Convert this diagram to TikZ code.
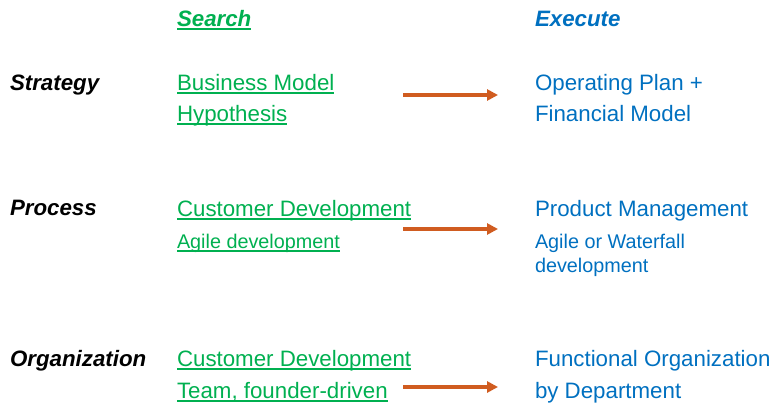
\documentclass[tikz,border=0pt]{standalone}
\usepackage{fontspec}
\setmainfont{Liberation Sans}
\usetikzlibrary{arrows.meta}
\definecolor{srchgreen}{RGB}{0,176,80}
\definecolor{execblue}{RGB}{0,112,192}
\definecolor{flowarrow}{RGB}{208,92,32}
\tikzset{
  txt/.style={anchor=base west, inner sep=0pt, outer sep=0pt},
  big/.style={txt, font=\fontsize{22.3}{26}\selectfont},
  small/.style={txt, font=\fontsize{19.8}{23}\selectfont},
  head/.style={big, font=\fontsize{22.3}{26}\selectfont\bfseries\itshape},
  search/.style={text=srchgreen},
  execute/.style={text=execblue},
  uline/.style={draw=srchgreen, line width=1.5pt},
  flow/.style={draw=flowarrow, line width=3.4pt, -{Triangle[length=11pt,width=11pt]}}
}
\newcommand{\ul}[1]{\draw[uline] ([yshift=-3pt]#1.base west) -- ([yshift=-3pt]#1.base east);}
\begin{document}
\begin{tikzpicture}[x=1pt,y=-1pt]
\useasboundingbox (0,0) rectangle (780,415);

% column headings
\node[head, search]  (hsearch) at (177,26) {Search};
\node[head, execute] (hexec)   at (535,26) {Execute};
\ul{hsearch}

% row labels
\node[head] (rstrat) at (10,90)  {Strategy};
\node[head] (rproc)  at (10,215) {Process};
\node[head] (rorg)   at (10,366) {Organization};

% Strategy row
\node[big, search] (s1a) at (177,90)  {Business Model};
\node[big, search] (s1b) at (177,121) {Hypothesis};
\ul{s1a}\ul{s1b}
\node[big, execute] (e1a) at (535,90)  {Operating Plan +};
\node[big, execute] (e1b) at (535,121) {Financial Model};
\coordinate (a1s) at (403,95);
\coordinate (a1e) at (498,95);
\draw[flow] (a1s) -- (a1e);

% Process row
\node[big, search]   (s2a) at (177,216) {Customer Development};
\node[small, search] (s2b) at (177,248) {Agile development};
\ul{s2a}\ul{s2b}
\node[big, execute]   (e2a) at (535,216) {Product Management};
\node[small, execute] (e2b) at (535,248) {Agile or Waterfall};
\node[small, execute] (e2c) at (535,272) {development};
\coordinate (a2s) at (403,229);
\coordinate (a2e) at (498,229);
\draw[flow] (a2s) -- (a2e);

% Organization row
\node[big, search] (s3a) at (177,366) {Customer Development};
\node[big, search] (s3b) at (177,398) {Team, founder-driven};
\ul{s3a}\ul{s3b}
\node[big, execute] (e3a) at (535,366) {Functional Organization};
\node[big, execute] (e3b) at (535,398) {by Department};
\coordinate (a3s) at (403,387);
\coordinate (a3e) at (498,387);
\draw[flow] (a3s) -- (a3e);
\end{tikzpicture}
\end{document}
